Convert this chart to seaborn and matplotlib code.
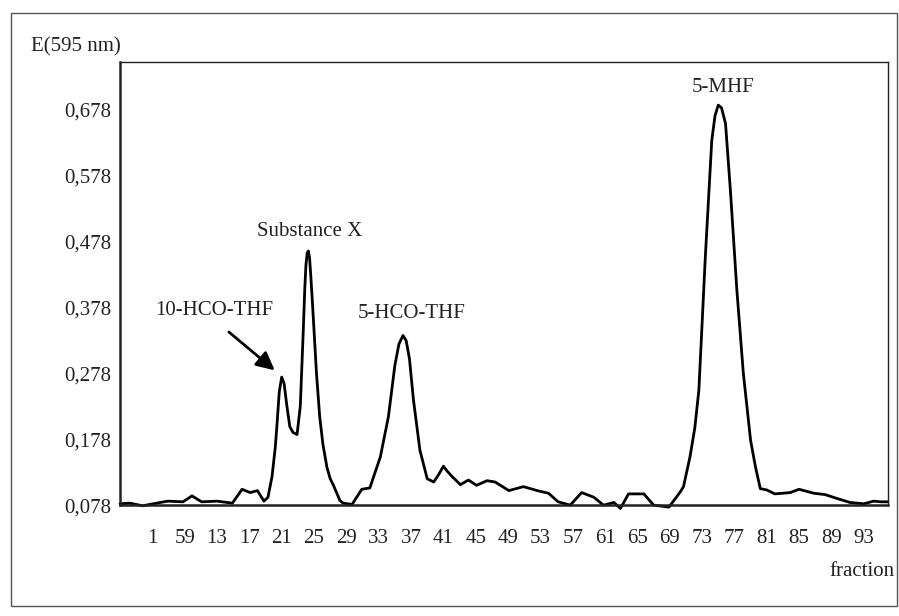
import numpy as np
import pandas as pd
import seaborn as sns
import matplotlib.pyplot as plt
from matplotlib.patches import Rectangle

# curve (fraction number, extinction at 595 nm)
fraction = [1.0, 2.2, 3.8, 5.1, 6.9, 8.8, 9.9, 11.1, 13.0, 14.9, 16.1, 17.1, 18.0,
            18.8, 19.3, 19.8, 20.2, 20.4, 20.7, 21.0, 21.3, 21.6, 22.0, 22.4, 22.9, 23.3,
            23.5, 23.7, 23.85, 24.0, 24.15, 24.3, 24.45, 24.6, 24.8, 25.3, 25.7, 26.1, 26.6,
            27.0, 27.4, 28.2, 28.6, 29.7,
            30.9, 31.9, 33.2, 34.2, 35.0, 35.5, 36.0, 36.4, 36.8, 37.3, 38.1, 39.0, 39.8, 40.4, 41.0,
            41.5, 42.1, 43.1, 44.1, 45.1, 46.4, 47.4, 49.1, 50.9, 52.6, 54.0, 55.2, 56.7,
            58.1, 59.6, 60.8, 62.1, 62.9, 63.9, 65.8, 67.0, 68.9, 70.3, 70.7, 71.5,
            72.1, 72.6, 73.4, 74.2, 74.6, 75.0, 75.4, 75.9, 76.5, 77.3, 78.1, 79.0, 79.6, 80.2, 81.0,
            82.0, 83.9, 85.0, 86.8, 88.2, 89.7, 91.3, 93.0, 94.2, 95.1, 96.0]
extinction = [0.080, 0.081, 0.077, 0.080, 0.084, 0.083, 0.092, 0.083, 0.084, 0.081, 0.102, 0.097, 0.100,
              0.084, 0.090, 0.121, 0.165, 0.197, 0.250, 0.272, 0.262, 0.232, 0.197, 0.188, 0.185, 0.228,
              0.290, 0.353, 0.405, 0.442, 0.460, 0.463, 0.452, 0.425, 0.385, 0.278, 0.212, 0.170, 0.135,
              0.118, 0.108, 0.085, 0.081, 0.079,
              0.102, 0.104, 0.151, 0.212, 0.290, 0.322, 0.335, 0.327, 0.300, 0.237, 0.161, 0.118, 0.113, 0.124, 0.137,
              0.129, 0.121, 0.109, 0.116, 0.108, 0.115, 0.113, 0.100, 0.106, 0.100, 0.096, 0.083, 0.078,
              0.097, 0.090, 0.078, 0.082, 0.073, 0.095, 0.095, 0.078, 0.075, 0.098, 0.106, 0.151,
              0.195, 0.252, 0.454, 0.631, 0.668, 0.684, 0.680, 0.656, 0.555, 0.404, 0.278, 0.176, 0.136, 0.103, 0.101,
              0.095, 0.097, 0.102, 0.096, 0.094, 0.088, 0.082, 0.080, 0.084, 0.083, 0.083]

tick_fracs = [1, 5, 9, 13, 17, 21, 25, 29, 33, 37, 41, 45, 49, 53, 57, 61, 65, 69, 73, 77, 81, 85, 89, 93]
tick_labels = ["", "1", "59", "13", "17", "21", "25", "29", "33", "37", "41", "45", "49", "53",
               "57", "61", "65", "69", "73", "77", "81", "85", "89", "93"]
y_ticks = [0.078, 0.178, 0.278, 0.378, 0.478, 0.578, 0.678]
y_labels = ["0,078", "0,178", "0,278", "0,378", "0,478", "0,578", "0,678"]

sns.set_style("white")
plt.rcParams['font.family'] = ['Liberation Serif', 'DejaVu Serif']

df = pd.DataFrame({"fraction": fraction, "E": extinction})

fig = plt.figure(figsize=(8.99, 6.16), dpi=100)
ax = fig.add_axes([0.1335, 0.180, 0.8543, 0.719])
sns.lineplot(data=df, x="fraction", y="E", sort=False, estimator=None,
             color="black", linewidth=2.0, ax=ax, clip_on=False)

ax.set_xlim(1, 96)
ax.set_ylim(0.078, 0.749)
ax.set_xticks(tick_fracs)
ax.set_xticklabels(tick_labels)
ax.set_yticks(y_ticks)
ax.set_yticklabels(y_labels)
ax.set_xlabel("")
ax.set_ylabel("")
for s in ax.spines.values():
    s.set_color("#222222")
    s.set_linewidth(1.0)
ax.spines["left"].set_linewidth(1.8)
ax.spines["bottom"].set_linewidth(1.8)
ax.tick_params(axis="both", direction="inout", length=7, width=1.4, colors="#222222",
               labelsize=15, labelcolor="#222222")
ax.tick_params(axis="x", pad=14)
ax.tick_params(axis="y", pad=3)

tkw = dict(fontsize=15, color="#222222", ha="center", va="center")
ax.text(12.6, 0.373, "10-HCO-THF", **tkw)
ax.text(24.5, 0.493, "Substance X", **tkw)
ax.text(37.1, 0.369, "5-HCO-THF", **tkw)
ax.text(75.6, 0.711, "5-MHF", **tkw)
ax.annotate("", xy=(20.4, 0.2795), xytext=(14.2, 0.343),
            arrowprops=dict(arrowstyle="-|>,head_length=1.1,head_width=0.55",
                            color="black", lw=2.0))

fig.text(31 / 899, 1 - 47 / 616, "E(595 nm)", fontsize=15, color="#222222", ha="left", va="center")
fig.text(895 / 899, 1 - 572 / 616, "fraction", fontsize=15, color="#222222", ha="right", va="center")

fig.patches.append(Rectangle((11 / 899, 1 - 606 / 616), 886 / 899, 593 / 616,
                             transform=fig.transFigure, fill=False,
                             edgecolor="#555555", linewidth=1.0))

fig.savefig("out.png", dpi=100)
